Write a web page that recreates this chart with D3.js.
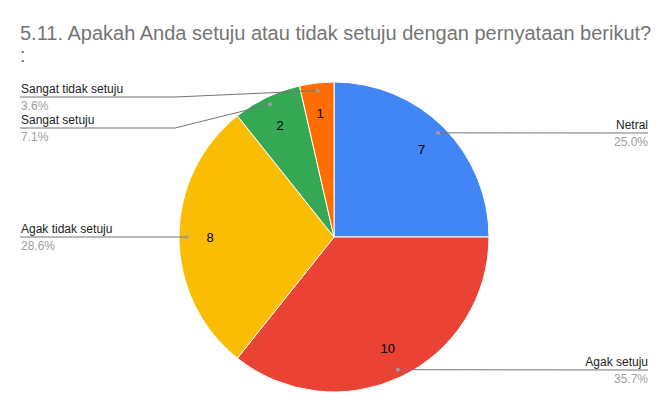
<!DOCTYPE html>
<html><head><meta charset="utf-8">
<script src="https://cdn.jsdelivr.net/npm/d3@7"></script>
<style>body{margin:0;background:#fff;}svg{display:block;font-family:"Liberation Sans",Arial,sans-serif;}</style>
</head><body>
<svg id="c" width="669" height="413"></svg>
<script>
const categories = ["Netral","Agak setuju","Agak tidak setuju","Sangat setuju","Sangat tidak setuju"];
const values = [7,10,8,2,1];
const percentLabels = ["25.0%","35.7%","28.6%","7.1%","3.6%"];
const colors = ["#4285f4","#ea4335","#fbbc04","#34a853","#ff6d01"];
const titleLines = ["5.11. Apakah Anda setuju atau tidak setuju dengan pernyataan berikut?", ":"];
// label placement: side and y of leader line
const labelSide = ["right","right","left","left","left"];
const labelLineY = [133,370,237,128,97];

const svg = d3.select("#c");
const cx = 334, cy = 237, R = 155;

svg.selectAll("text.title").data(titleLines).enter().append("text")
  .attr("x",20).attr("y",(d,i)=>40+i*22)
  .attr("font-size",20).attr("fill","#757575").text(d=>d);

const pie = d3.pie().sort(null).value(d=>d)(values);
const arc = d3.arc().innerRadius(0).outerRadius(R);
const g = svg.append("g").attr("transform",`translate(${cx},${cy})`);
g.selectAll("path").data(pie).enter().append("path")
  .attr("d",arc).attr("fill",(d,i)=>colors[i]).attr("stroke","#fff").attr("stroke-width",1);

const dotArc = d3.arc().innerRadius(R*0.95).outerRadius(R*0.95);
const valArc = d3.arc().innerRadius(R*0.8).outerRadius(R*0.8);

g.selectAll("text.val").data(pie).enter().append("text")
  .attr("x",d=>valArc.centroid(d)[0]).attr("y",d=>valArc.centroid(d)[1])
  .attr("text-anchor","middle").attr("dy","0.35em")
  .attr("font-size",13).attr("fill","#000").text(d=>d.data);

pie.forEach((d,i)=>{
  const [dx,dy] = dotArc.centroid(d);
  const px = cx+dx, py = cy+dy;
  const ly = labelLineY[i];
  let pts;
  if(labelSide[i]==="right"){
    pts = [[px,py],[648,ly]];
    if(Math.abs(py-ly)>0.5) pts=[[px,py],[px+Math.abs(py-ly),ly],[648,ly]];
  } else {
    if(Math.abs(py-ly)>0.5) pts=[[px,py],[175,ly],[20,ly]];
    else pts=[[px,py],[20,ly]];
  }
  svg.append("path").attr("d",d3.line()(pts)).attr("fill","none").attr("stroke","#757575").attr("stroke-width",1);
  svg.append("circle").attr("cx",px).attr("cy",py).attr("r",2).attr("fill","#9e9e9e");
  const tx = labelSide[i]==="right"?648:21;
  const anchor = labelSide[i]==="right"?"end":"start";
  svg.append("text").attr("x",tx).attr("y",ly-4).attr("text-anchor",anchor)
    .attr("font-size",12).attr("fill","#222").text(categories[i]);
  svg.append("text").attr("x",tx).attr("y",ly+13).attr("text-anchor",anchor)
    .attr("font-size",12).attr("fill","#9e9e9e").text(percentLabels[i]);
});
</script>
</body></html>
